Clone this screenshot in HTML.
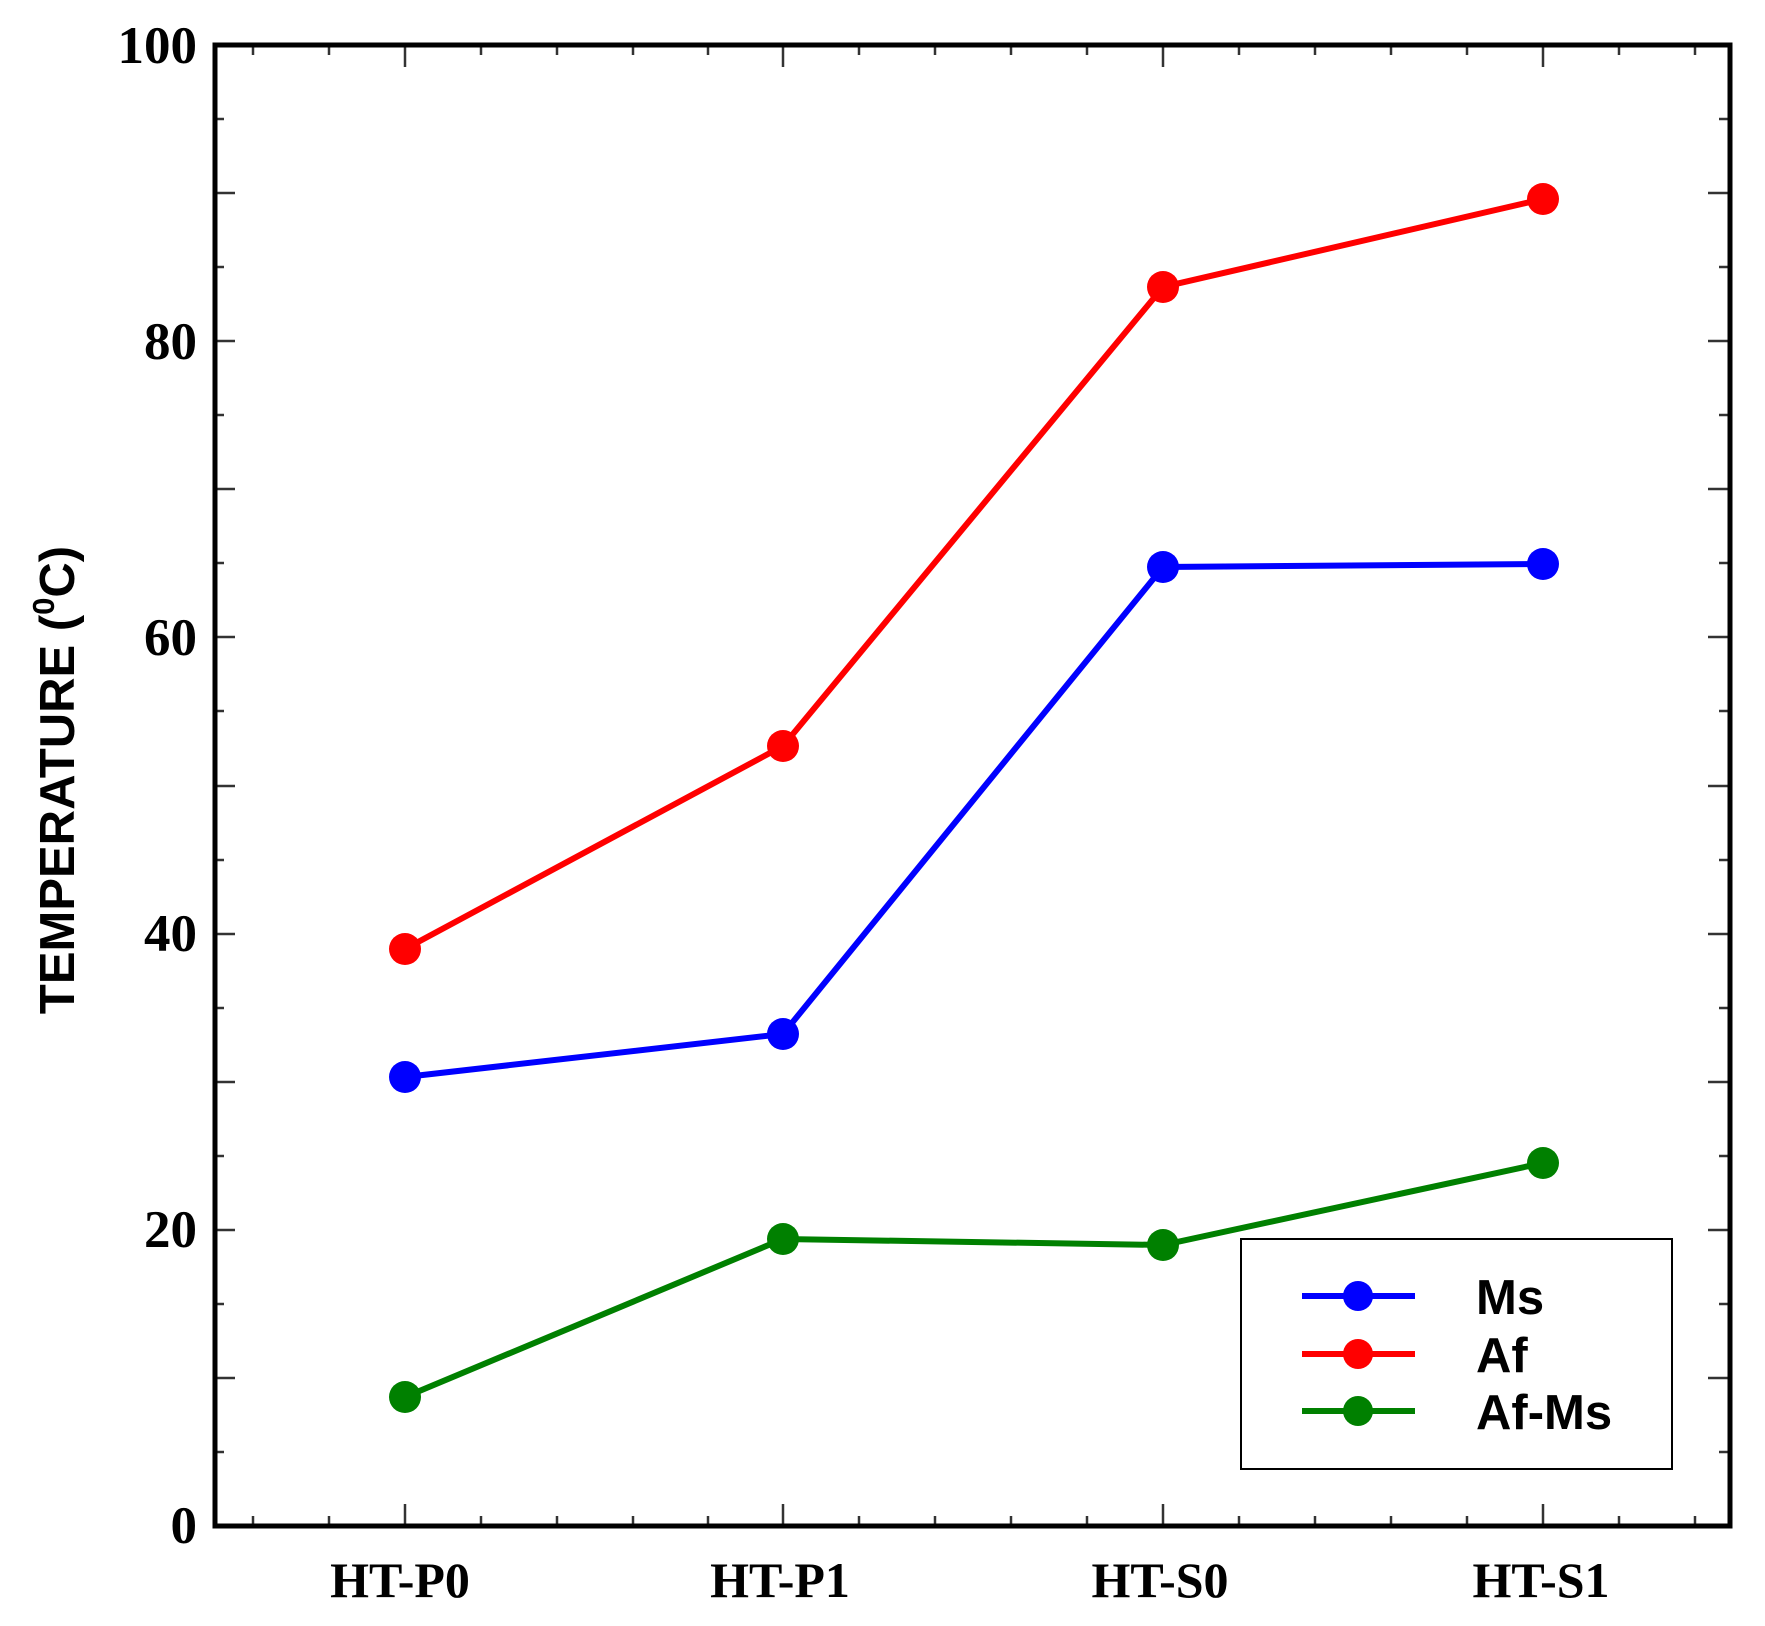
<!DOCTYPE html>
<html><head><style>body{margin:0;background:#fff}svg{display:block}</style></head>
<body>
<svg width="1765" height="1626" xmlns="http://www.w3.org/2000/svg">
<rect width="1765" height="1626" fill="#fff"/>
<g stroke="#333" stroke-width="2.5">
<path d="M213 1526h22M213 1452h11M213 1378h22M213 1304h11M213 1230h22M213 1156h11M213 1082h22M213 1008h11M213 934h22M213 860h11M213 786h22M213 711h11M213 637h22M213 563h11M213 489h22M213 415h11M213 341h22M213 267h11M213 193h22M213 119h11M213 45h22"/>
<path d="M1730 1526h-22M1730 1452h-11M1730 1378h-22M1730 1304h-11M1730 1230h-22M1730 1156h-11M1730 1082h-22M1730 1008h-11M1730 934h-22M1730 860h-11M1730 786h-22M1730 711h-11M1730 637h-22M1730 563h-11M1730 489h-22M1730 415h-11M1730 341h-22M1730 267h-11M1730 193h-22M1730 119h-11M1730 45h-22"/>
<path d="M253 1526v-10M329 1526v-10M405 1526v-22M481 1526v-10M557 1526v-10M633 1526v-10M708 1526v-10M783 1526v-22M859 1526v-10M935 1526v-10M1011 1526v-10M1087 1526v-10M1163 1526v-22M1239 1526v-10M1315 1526v-10M1391 1526v-10M1467 1526v-10M1543 1526v-22M1619 1526v-10M1695 1526v-10"/>
<path d="M253 45v10M329 45v10M405 45v22M481 45v10M557 45v10M633 45v10M708 45v10M783 45v22M859 45v10M935 45v10M1011 45v10M1087 45v10M1163 45v22M1239 45v10M1315 45v10M1391 45v10M1467 45v10M1543 45v22M1619 45v10M1695 45v10"/>
</g>
<rect x="215" y="45" width="1515" height="1481" fill="none" stroke="#000" stroke-width="5"/>
<g font-family="Liberation Serif, serif" font-weight="bold" font-size="53" text-anchor="end">
<text x="197" y="1543">0</text><text x="197" y="1247">20</text><text x="197" y="951">40</text><text x="197" y="655">60</text><text x="197" y="359">80</text><text x="197" y="63">100</text>
</g>
<g font-family="Liberation Serif, serif" font-weight="bold" font-size="50" text-anchor="middle">
<text x="400" y="1597">HT-P0</text><text x="780" y="1597">HT-P1</text><text x="1160" y="1597">HT-S0</text><text x="1541" y="1597">HT-S1</text>
</g>
<text transform="translate(74,780) rotate(-90)" font-family="Liberation Sans, sans-serif" font-weight="bold" font-size="49" text-anchor="middle">TEMPERATURE (<tspan font-size="31" dy="-20">0</tspan><tspan dy="20">C)</tspan></text>
<g stroke-width="6" fill="none">
<polyline stroke="#ff0000" points="405,949 783,746 1163,287 1543,199"/>
<polyline stroke="#0000ff" points="405,1077 783,1034 1163,567 1543,564"/>
<polyline stroke="#008000" points="405,1397 783,1239 1163,1245 1543,1163"/>
</g>
<g fill="#ff0000"><circle cx="405" cy="949" r="16"/><circle cx="783" cy="746" r="16"/><circle cx="1163" cy="287" r="16"/><circle cx="1543" cy="199" r="16"/></g>
<g fill="#0000ff"><circle cx="405" cy="1077" r="16"/><circle cx="783" cy="1034" r="16"/><circle cx="1163" cy="567" r="16"/><circle cx="1543" cy="564" r="16"/></g>
<g fill="#008000"><circle cx="405" cy="1397" r="16"/><circle cx="783" cy="1239" r="16"/><circle cx="1163" cy="1245" r="16"/><circle cx="1543" cy="1163" r="16"/></g>
<rect x="1241" y="1239" width="431" height="230" fill="#fff" stroke="#000" stroke-width="2"/>
<g stroke-width="6"><path d="M1302 1296h113" stroke="#0000ff"/><path d="M1302 1354h113" stroke="#ff0000"/><path d="M1302 1411h113" stroke="#008000"/></g>
<circle cx="1358" cy="1296" r="15" fill="#0000ff"/><circle cx="1358" cy="1354" r="15" fill="#ff0000"/><circle cx="1358" cy="1411" r="15" fill="#008000"/>
<g font-family="Liberation Sans, sans-serif" font-weight="bold" font-size="49">
<text x="1476" y="1314">Ms</text><text x="1476" y="1372">Af</text><text x="1476" y="1429">Af-Ms</text>
</g>
</svg>
</body></html>
